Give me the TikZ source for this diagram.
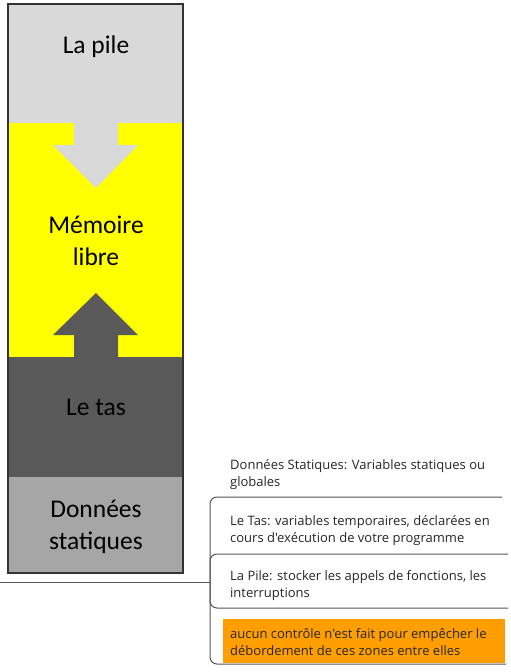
\documentclass[tikz,border=0pt]{standalone}
\usepackage{fontspec}
\setmainfont{Carlito}
\newfontfamily\notefont{Open Sans}
\usetikzlibrary{positioning}

\definecolor{pilegray}{HTML}{D9D9D9}
\definecolor{libreyellow}{HTML}{FFFF00}
\definecolor{tasgray}{HTML}{595959}
\definecolor{statgray}{HTML}{A6A6A6}
\definecolor{notegray}{HTML}{555555}
\definecolor{warnorange}{HTML}{FF9E00}

\tikzset{
	zonelabel/.style = {font = \fontsize{25.5}{32}\selectfont, align = center, text = black},
	note/.style = {font = \notefont\fontsize{13}{17}\selectfont, anchor = west, align = left, inner sep = 0pt, text = black!85},
	branch/.style = {draw = notegray, line width = 1pt, rounded corners = 7pt},
}

\begin{document}
\begin{tikzpicture}[x = 1pt, y = -1pt]
	\useasboundingbox (0, 0) rectangle (511, 672);
	% les zones de la memoire
	\fill[pilegray] (8, 4) rectangle (183, 123);
	\fill[libreyellow] (8, 123) rectangle (183, 357);
	\fill[tasgray] (8, 357) rectangle (183, 477);
	\fill[statgray] (8, 477) rectangle (183, 573);
	\fill[pilegray] (74, 123)--(118, 123)--(118, 145)--(138, 145)--(96, 188)--(53, 145)--(74, 145)--cycle;
	\fill[tasgray] (74, 357)--(118, 357)--(118, 335)--(138, 335)--(96, 293)--(53, 335)--(74, 335)--cycle;
	\draw[black!80, line width = 1.5pt] (8, 4) rectangle (183, 573);
	\node[zonelabel] (pile) at (96, 47) {La pile};
	\node[zonelabel] (libre) at (96, 241) {Mémoire\\libre};
	\node[zonelabel] (tas) at (96, 407) {Le tas};
	\node[zonelabel] (statiques) at (96, 527) {Données\\statiques};
	% les notes
	\fill[warnorange] (223, 619) rectangle (505, 663);
	\node[note] (notestat) at (230, 475) {Données Statiques: Variables statiques ou\\globales};
	\node[note] (notetas) at (230, 530.5) {Le Tas: variables temporaires, déclarées en\\cours d'exécution de votre programme};
	\node[note] (notepile) at (230, 586) {La Pile: stocker les appels de fonctions, les\\interruptions};
	\node[note] (notewarn) at (230, 642) {aucun contrôle n'est fait pour empêcher le\\débordement de ces zones entre elles};
	\coordinate (racine) at (0, 582);
	\coordinate (fourche) at (210, 582);
	\draw[branch] (racine)--(fourche);
	\draw[branch] (502, 497)--(210, 497)--(210, 664)--(506, 664);
	\draw[branch] (508, 554)--(210, 554)--(210, 608)--(508, 608);
\end{tikzpicture}
\end{document}
